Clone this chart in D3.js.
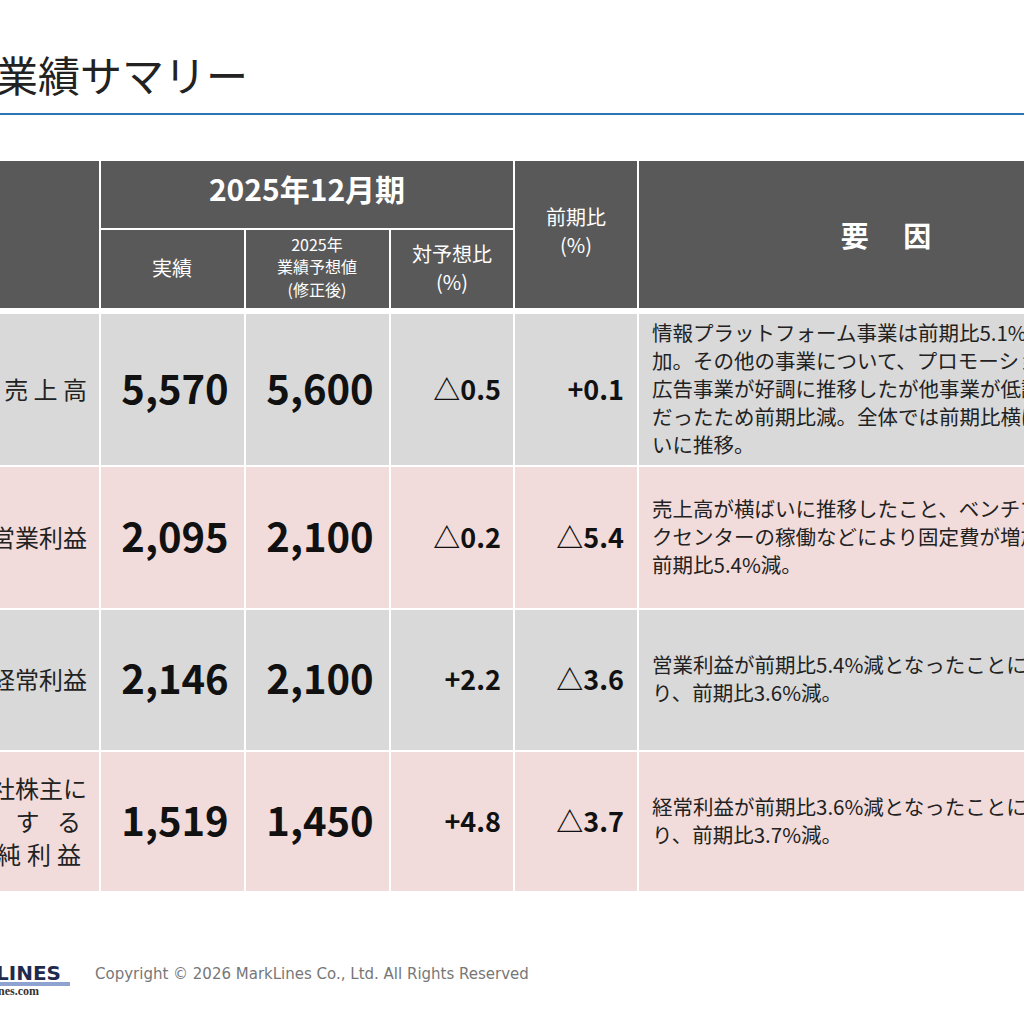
<!DOCTYPE html>
<html><head><meta charset="utf-8">
<script src="https://cdn.jsdelivr.net/npm/d3@7"></script>
<style>body{margin:0;background:#fff;overflow:hidden}svg{font-family:"Noto Sans CJK JP","Noto Sans",sans-serif}</style>
</head><body><svg id="c" width="1024" height="1024"></svg>
<script>
const items=[["売 上 高"],["営業利益"],["経常利益"],["親会社株主に","帰 属 す る","当期純利益"]];
const actual=["5,570","2,095","2,146","1,519"];
const forecast=["5,600","2,100","2,100","1,450"];
const vsForecast=["△0.5","△0.2","+2.2","+4.8"];
const yoy=["+0.1","△5.4","△3.6","△3.7"];
const factors=[
["情報プラットフォーム事業は前期比5.1%増","加。その他の事業について、プロモーション","広告事業が好調に推移したが他事業が低調","だったため前期比減。全体では前期比横ば","いに推移。"],
["売上高が横ばいに推移したこと、ベンチマー","クセンターの稼働などにより固定費が増加し、","前期比5.4%減。"],
["営業利益が前期比5.4%減となったことによ","り、前期比3.6%減。"],
["経常利益が前期比3.6%減となったことによ","り、前期比3.7%減。"]];
const rowFill=["#d9d9d9","#f2dcdb","#d9d9d9","#f2dcdb"];
const svg=d3.select("#c");
const colX=[-60,100,245,390,514,638,1100];
const rowEdges=[313,466,609,751,892];
const y=d3.scaleOrdinal().domain(d3.range(4)).range(rowEdges.slice(0,4));
const hgt=i=>rowEdges[i+1]-rowEdges[i];
svg.append("text").attr("x",-4).attr("y",92).attr("font-size",42).attr("fill","#222").text("業績サマリー");
svg.append("line").attr("x1",0).attr("x2",1024).attr("y1",114).attr("y2",114).attr("stroke","#2e75b6").attr("stroke-width",2);
const H="#595959";
const hdr=[[colX[0],160,colX[1]-colX[0],149],[colX[1],160,colX[4]-colX[1],69],[colX[1],229,145,80],[colX[2],229,145,80],[colX[3],229,124,80],[colX[4],160,124,149],[colX[5],160,500,149]];
svg.selectAll("rect.h").data(hdr).join("rect").attr("x",d=>d[0]).attr("y",d=>d[1]).attr("width",d=>d[2]).attr("height",d=>d[3]).attr("fill",H).attr("stroke","#fff").attr("stroke-width",2);
const ht=(x,y0,t,fs,fw)=>svg.append("text").attr("x",x).attr("y",y0).attr("text-anchor","middle").attr("fill","#fff").attr("font-size",fs).attr("font-weight",fw||400).text(t);
ht(307,201,"2025年12月期",30,700);
ht(172,276,"実績",20);
ht(317,251,"2025年",16);ht(317,273,"業績予想値",16);ht(317,296,"(修正後)",16);
ht(452,262,"対予想比",20);ht(452,290,"(%)",20);
ht(576,225,"前期比",20);ht(576,253,"(%)",20);
ht(886,247,"要　 因",28,700);
const g=svg.selectAll("g.r").data(d3.range(4)).join("g").attr("transform",i=>`translate(0,${y(i)})`);
g.each(function(i){
  const s=d3.select(this),h=hgt(i),m=h/2;
  for(let c=0;c<6;c++) s.append("rect").attr("x",colX[c]).attr("y",0).attr("width",colX[c+1]-colX[c]).attr("height",h).attr("fill",rowFill[i]).attr("stroke","#fff").attr("stroke-width",2);
  const L=items[i];
  L.forEach((t,k)=>s.append("text").attr("x",87).attr("y",m+9+(k-(L.length-1)/2)*33).attr("text-anchor","end").attr("font-size",24).attr("fill","#222").attr("letter-spacing",L.length>1&&k>0?"6px":"0").text(t));
  s.append("text").attr("x",175).attr("y",m+14).attr("text-anchor","middle").attr("font-size",40).attr("font-weight",700).attr("fill","#111").text(actual[i]);
  s.append("text").attr("x",320).attr("y",m+14).attr("text-anchor","middle").attr("font-size",40).attr("font-weight",700).attr("fill","#111").text(forecast[i]);
  s.append("text").attr("x",501).attr("y",m+10).attr("text-anchor","end").attr("font-size",27).attr("font-weight",700).attr("fill","#111").text(vsForecast[i]);
  s.append("text").attr("x",624).attr("y",m+10).attr("text-anchor","end").attr("font-size",27).attr("font-weight",700).attr("fill","#111").text(yoy[i]);
  const F=factors[i];
  F.forEach((t,k)=>s.append("text").attr("x",652).attr("y",m+7+(k-(F.length-1)/2)*28).attr("font-size",20.5).attr("fill","#222").text(t));
});
svg.append("text").attr("x",-4).attr("y",980).attr("font-family","DejaVu Sans").attr("font-weight",700).attr("font-size",20).attr("fill","#1f2a4d").text("LINES");
svg.append("rect").attr("x",0).attr("y",982).attr("width",70).attr("height",4).attr("fill","#8fa3d0");
svg.append("text").attr("x",-2).attr("y",995).attr("font-family","Liberation Serif").attr("font-weight",700).attr("font-size",12).attr("fill","#333").text("nes.com");
svg.append("text").attr("x",95).attr("y",979).attr("font-family","DejaVu Sans").attr("font-size",15).attr("fill","#777").text("Copyright © 2026 MarkLines Co., Ltd. All Rights Reserved");
</script></body></html>
